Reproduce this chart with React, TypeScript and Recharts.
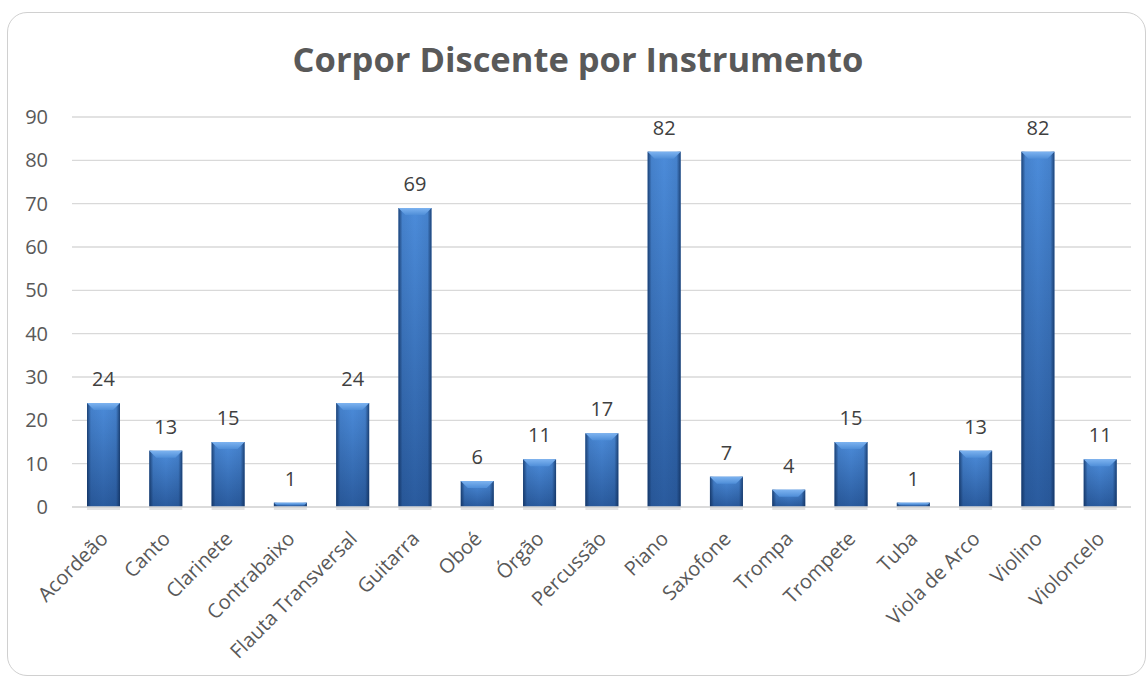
import React from 'react';
import { BarChart, Bar, XAxis, YAxis, CartesianGrid, LabelList } from 'recharts';

const instruments = [
  'Acordeão', 'Canto', 'Clarinete', 'Contrabaixo', 'Flauta Transversal', 'Guitarra', 'Oboé', 'Órgão',
  'Percussão', 'Piano', 'Saxofone', 'Trompa', 'Trompete', 'Tuba', 'Viola de Arco', 'Violino', 'Violoncelo',
];
const students = [24, 13, 15, 1, 24, 69, 6, 11, 17, 82, 7, 4, 15, 1, 13, 82, 11];
const yTicks = [0, 10, 20, 30, 40, 50, 60, 70, 80, 90];

const data = instruments.map((name, i) => ({ name, value: students[i] }));

const FONT = '"Open Sans", sans-serif';

function BevelBar(props: any) {
  const { x, y, width, height } = props;
  if (!height || height <= 0) return null;
  const b = Math.min(7, height / 2);
  return (
    <g>
      <rect x={x} y={y + height} width={width} height={3} fill="#000" opacity={0.1} />
      <rect x={x} y={y} width={width} height={height} fill="url(#barBody)" />
      <rect x={x} y={y} width={width} height={height} fill="url(#barSides)" />
      <polygon
        points={`${x},${y} ${x + width},${y} ${x + width - b},${y + b} ${x + b},${y + b}`}
        fill="url(#barTop)"
      />
    </g>
  );
}

function XTick(props: any) {
  const { x, y, payload } = props;
  const tx = x + 6;
  const ty = y + 25;
  return (
    <text
      x={tx}
      y={ty}
      transform={`rotate(-45, ${tx}, ${ty})`}
      textAnchor="end"
      fill="#595959"
      fontSize={20}
      fontFamily={FONT}
    >
      {payload.value}
    </text>
  );
}

export default function App() {
  return (
    <div style={{ position: 'absolute', left: 0, top: 0, width: 1148, height: 677, background: '#fff' }}>
      <div
        style={{
          position: 'absolute',
          left: 7,
          top: 12,
          width: 1137,
          height: 662,
          border: '1px solid #d0d0d0',
          borderRadius: 20,
        }}
      />
      <div
        style={{
          position: 'absolute',
          left: 0,
          top: 35,
          width: 1156,
          textAlign: 'center',
          fontFamily: FONT,
          fontWeight: 700,
          fontSize: 34.5,
          color: '#595959',
        }}
      >
        Corpor Discente por Instrumento
      </div>
      <div style={{ position: 'absolute', left: 0, top: 0 }}>
        <BarChart
          width={1148}
          height={677}
          data={data}
          margin={{ top: 117, right: 17, bottom: 0, left: 12 }}
        >
          <defs>
            <linearGradient id="barBody" x1="0" y1="0" x2="0" y2="1">
              <stop offset="0%" stopColor="#4c8cda" />
              <stop offset="100%" stopColor="#2a5b9e" />
            </linearGradient>
            <linearGradient id="barSides" x1="0" y1="0" x2="1" y2="0">
              <stop offset="0%" stopColor="#0d2a55" stopOpacity={0.75} />
              <stop offset="12%" stopColor="#0d2a55" stopOpacity={0.1} />
              <stop offset="50%" stopColor="#0d2a55" stopOpacity={0} />
              <stop offset="88%" stopColor="#0d2a55" stopOpacity={0.1} />
              <stop offset="100%" stopColor="#0d2a55" stopOpacity={0.75} />
            </linearGradient>
            <linearGradient id="barTop" x1="0" y1="0" x2="0" y2="1">
              <stop offset="0%" stopColor="#7db3f0" />
              <stop offset="100%" stopColor="#4f8ed8" />
            </linearGradient>
          </defs>
          <CartesianGrid vertical={false} stroke="#d9d9d9" strokeWidth={1.3} />
          <XAxis
            dataKey="name"
            interval={0}
            height={170}
            tickLine={false}
            axisLine={{ stroke: '#d9d9d9', strokeWidth: 1.3 }}
            tick={<XTick />}
          />
          <YAxis
            width={60}
            domain={[0, 90]}
            ticks={yTicks}
            tickLine={false}
            axisLine={false}
            tickMargin={18}
            tick={{ fill: '#595959', fontSize: 20, fontFamily: FONT }}
          />
          <Bar dataKey="value" barSize={33} shape={<BevelBar />} isAnimationActive={false}>
            <LabelList
              dataKey="value"
              position="top"
              offset={17}
              fill="#404040"
              fontSize={20}
              fontFamily={FONT}
            />
          </Bar>
        </BarChart>
      </div>
    </div>
  );
}
